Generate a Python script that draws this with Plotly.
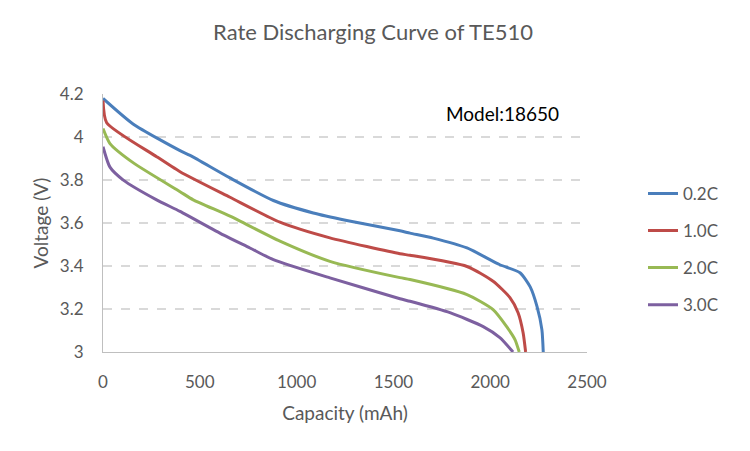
import plotly.graph_objects as go

series_names = ["0.2C", "1.0C", "2.0C", "3.0C"]
colors = ["#4A7EBB", "#BE4B48", "#98B954", "#7D60A0"]

cap_02 = [0, 157, 398, 450, 656, 880, 1086, 1259, 1534, 1586, 1706, 1880, 2050, 2154, 2206, 2242, 2267, 2274]
v_02 = [4.18, 4.06, 3.937, 3.915, 3.81, 3.705, 3.647, 3.612, 3.564, 3.553, 3.53, 3.484, 3.406, 3.369, 3.304, 3.211, 3.104, 3.0]

cap_10 = [0, 19, 277, 398, 656, 914, 1172, 1534, 1586, 1880, 2015, 2102, 2144, 2170, 2183]
v_10 = [4.17, 4.067, 3.909, 3.839, 3.72, 3.604, 3.531, 3.457, 3.45, 3.398, 3.329, 3.253, 3.183, 3.09, 3.0]

cap_20 = [0, 36, 157, 398, 466, 656, 914, 1172, 1534, 1586, 1880, 2015, 2085, 2128, 2150]
v_20 = [4.04, 3.97, 3.88, 3.746, 3.708, 3.632, 3.516, 3.422, 3.346, 3.337, 3.267, 3.197, 3.118, 3.058, 3.0]

cap_30 = [0, 36, 105, 277, 398, 621, 759, 880, 1172, 1534, 1586, 1792, 1964, 2050, 2118]
v_30 = [3.955, 3.86, 3.8, 3.708, 3.654, 3.545, 3.484, 3.43, 3.345, 3.248, 3.236, 3.183, 3.118, 3.067, 3.0]

x_ticks = [0, 500, 1000, 1500, 2000, 2500]
x_tick_text = ["0", "500", "1000", "1500", "2000", "2500"]
y_ticks = [3, 3.2, 3.4, 3.6, 3.8, 4, 4.2]
y_tick_text = ["3", "3.2", "3.4", "3.6", "3.8", "4", "4.2"]

title_text = "Rate Discharging Curve of TE510"
x_title = "Capacity (mAh)"
y_title = "Voltage (V)"
model_text = "Model:18650"

FONT = "Lato"
GREY = "#595959"

# page body has an 8px default margin; compensate
OFF = 8
L, R, T, B = 103 - OFF, 587 - OFF, 94 - OFF, 352.5 - OFF
PW, PH = R - L, B - T

fig = go.Figure()
for i, (cx, vy) in enumerate([(cap_02, v_02), (cap_10, v_10), (cap_20, v_20), (cap_30, v_30)]):
    fig.add_trace(go.Scatter(
        x=cx, y=vy, mode="lines", name=series_names[i],
        line=dict(color=colors[i], width=3, shape="spline", smoothing=0.6),
        legendgroup=series_names[i],
    ))

fig.update_layout(
    width=750, height=451,
    margin=dict(l=L, r=750 - R, t=T, b=451 - B),
    paper_bgcolor="white", plot_bgcolor="white",
    font=dict(family=FONT, size=17, color=GREY),
    title=dict(text=title_text, x=(373 - OFF) / 750, xanchor="center", y=1 - 17 / 451, yanchor="top",
               font=dict(family=FONT, size=22, color=GREY)),
    showlegend=True,
    legend=dict(x=(643 - OFF - L) / PW, xanchor="left", y=(B - (176 - OFF)) / PH, yanchor="top",
                traceorder="grouped", tracegroupgap=12,
                font=dict(family=FONT, size=17, color=GREY), bgcolor="rgba(0,0,0,0)"),
    annotations=[dict(text=model_text, x=(502 - OFF - L) / PW, y=(B - (113.3 - OFF)) / PH,
                      xref="paper", yref="paper", xanchor="center", yanchor="middle",
                      showarrow=False, font=dict(family=FONT, size=19, color="black"))],
)

fig.update_xaxes(range=[0, 2500], tickvals=x_ticks, ticktext=x_tick_text, automargin=False,
                 showgrid=False, zeroline=False, showline=True, linecolor="#BFBFBF", linewidth=1,
                 ticks="", ticklabelstandoff=15,
                 title=dict(text=x_title, standoff=15, font=dict(family=FONT, size=19, color=GREY)))
fig.update_yaxes(range=[3, 4.2005], tickvals=y_ticks, ticktext=y_tick_text, automargin=False,
                 showgrid=True, gridcolor="#D9D9D9", griddash="dash", gridwidth=2,
                 zeroline=False, showline=True, linecolor="#BFBFBF", linewidth=1,
                 ticks="", ticklabelstandoff=15,
                 title=dict(text=y_title, standoff=6, font=dict(family=FONT, size=19, color=GREY)))

fig.write_html("out.html")
